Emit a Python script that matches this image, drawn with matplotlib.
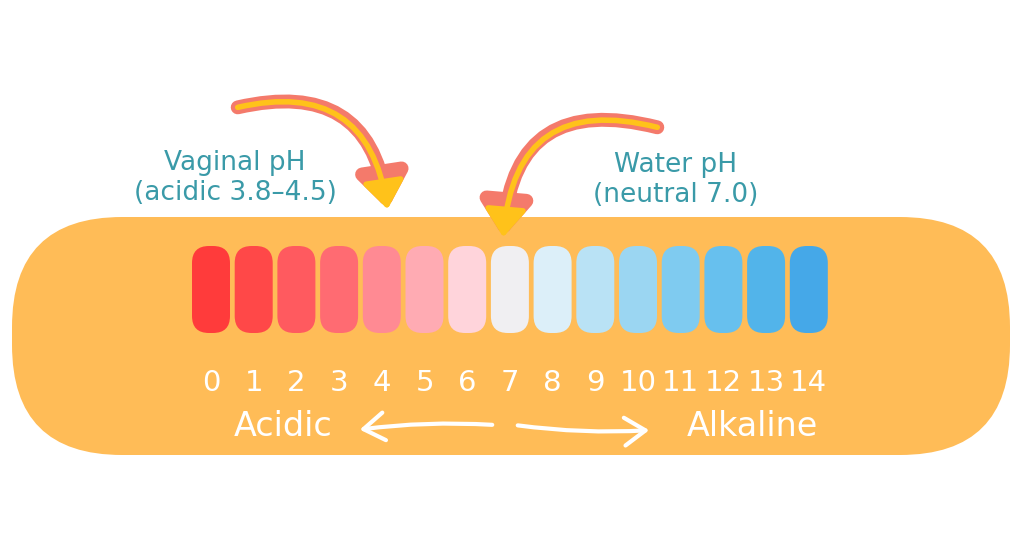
import matplotlib
matplotlib.use("Agg")
import matplotlib.pyplot as plt
from matplotlib.patches import FancyBboxPatch, FancyArrowPatch

ph_values = list(range(15))
ph_colors = ["#FF3B3B", "#FF4848", "#FF5A5F", "#FF6B72", "#FF8A93", "#FFABB3",
             "#FFD4DB", "#F0EFF2", "#DCEFF9", "#B9E2F5", "#9BD6F2", "#7FCBF0",
             "#67C0EE", "#52B4EA", "#45A8E8"]
annotations = ["Vaginal pH\n(acidic 3.8–4.5)", "Water pH\n(neutral 7.0)"]

fig = plt.figure(figsize=(10.24, 5.36), dpi=100)
ax = fig.add_axes([0, 0, 1, 1])
ax.set_xlim(0, 1024); ax.set_ylim(536, 0); ax.axis("off")

ax.add_patch(FancyBboxPatch((12, 217), 998, 238,
             boxstyle="round,pad=0,rounding_size=110",
             fc="#FFBC57", ec="none"))

x0, dx, w = 211, 42.7, 38
for v, c in zip(ph_values, ph_colors):
    x = x0 + dx * v
    ax.add_patch(FancyBboxPatch((x - w / 2, 246), w, 87,
                 boxstyle="round,pad=0,rounding_size=17", fc=c, ec="none"))
    ax.text(x, 383, str(v), color="white", fontsize=21, ha="center", va="center")

ax.text(283, 427, "Acidic", color="white", fontsize=24, ha="center", va="center")
ax.text(752, 427, "Alkaline", color="white", fontsize=24, ha="center", va="center")
for a, b in [((495, 425), (357, 430)), ((515, 425), (652, 430))]:
    ax.add_patch(FancyArrowPatch(a, b, arrowstyle="->,head_length=0.6,head_width=0.4",
                 color="white", lw=3, mutation_scale=25, connectionstyle="arc3,rad=0.05"))

ax.text(235, 178, annotations[0], color="#3A9AA8", fontsize=19, ha="center", va="center",
        linespacing=1.25)
ax.text(676, 180, annotations[1], color="#3A9AA8", fontsize=19, ha="center", va="center",
        linespacing=1.25)

for a, b, rad in [((235, 108), (388, 212), -0.55), ((660, 128), (503, 240), 0.6)]:
    for col, lw, ms in [("#F47A6B", 10, 1.6), ("#FFC21A", 4, 1.4)]:
        ax.add_patch(FancyArrowPatch(a, b, arrowstyle="-|>,head_length=12,head_width=9",
                     color=col, lw=lw, mutation_scale=ms, joinstyle="round",
                     connectionstyle=f"arc3,rad={rad}"))

fig.savefig("out.png", dpi=100, facecolor="white")
